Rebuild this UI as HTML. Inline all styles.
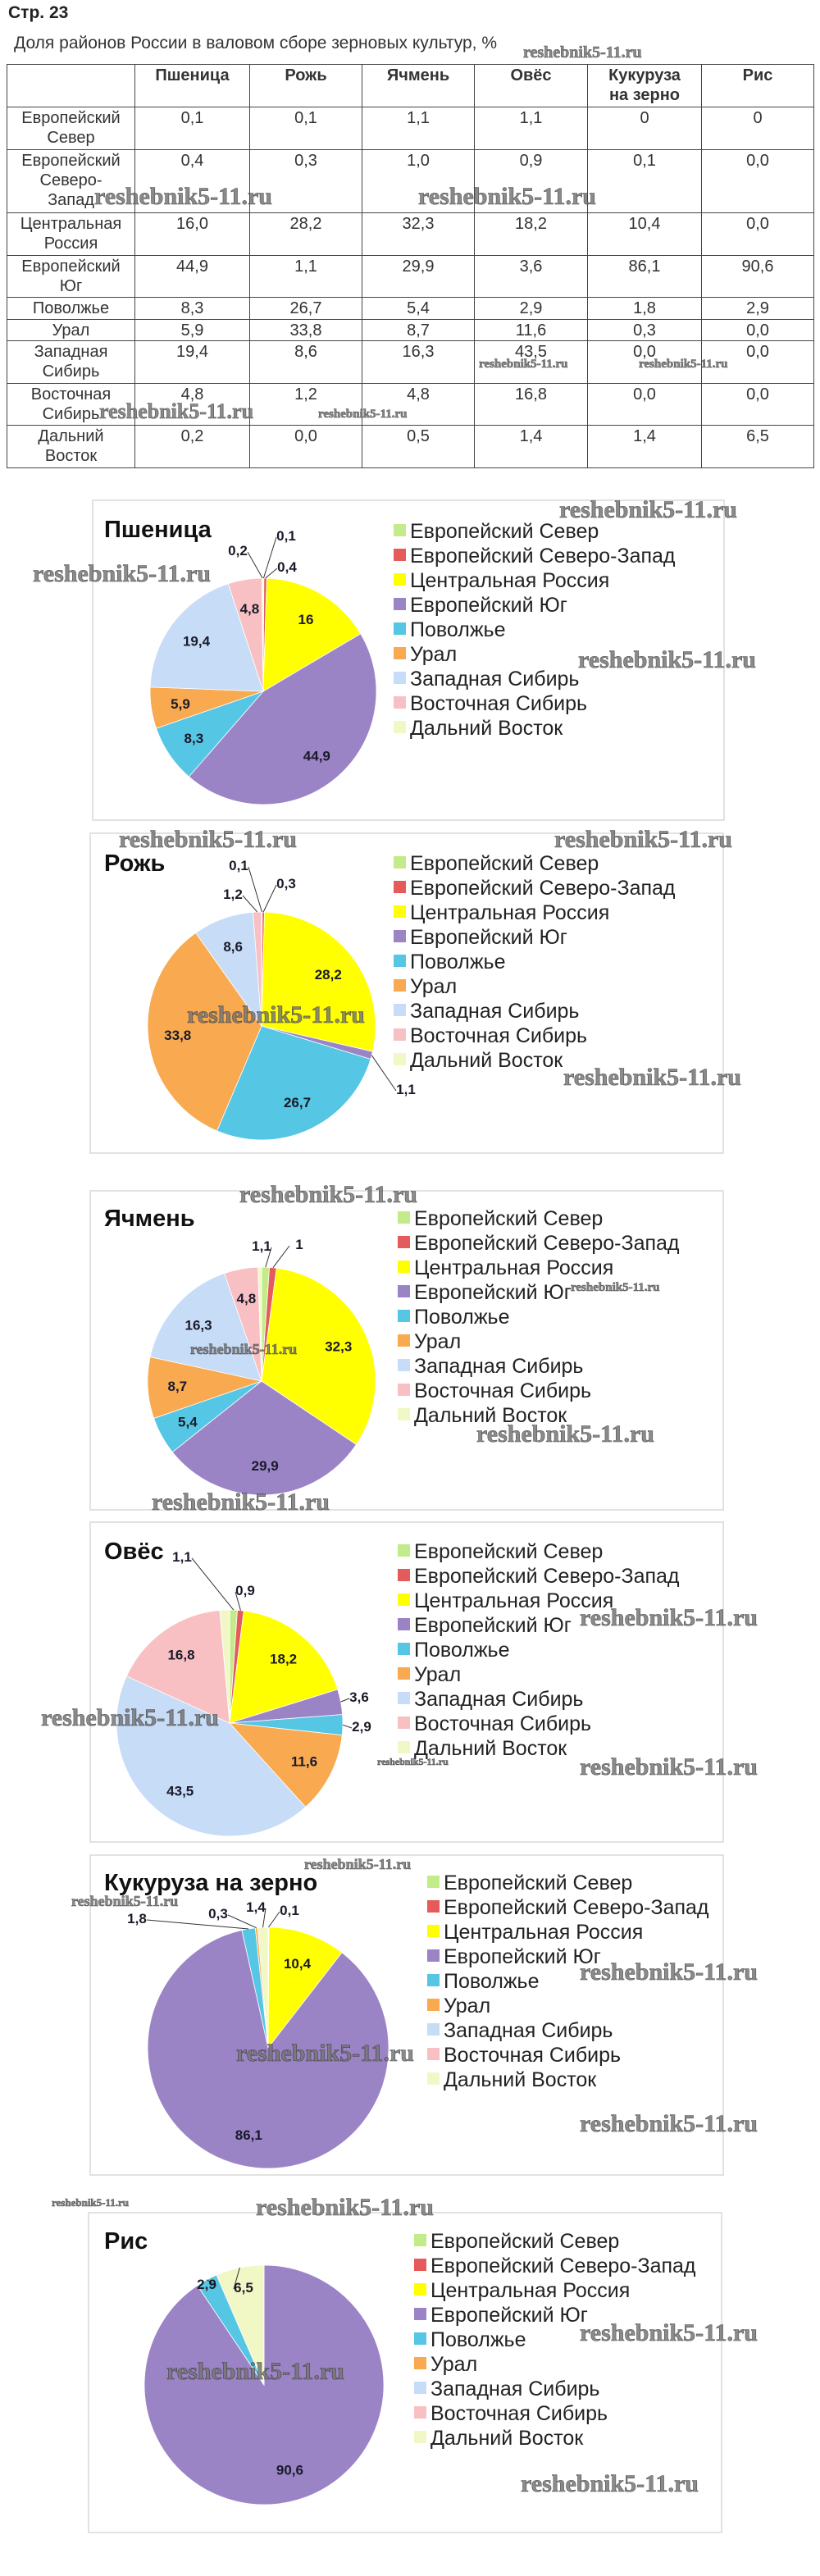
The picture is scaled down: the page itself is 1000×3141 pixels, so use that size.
<!DOCTYPE html>
<html><head><meta charset="utf-8"><style>
body{margin:0;background:#fff;width:1000px;height:3141px;position:relative;overflow:hidden;font-family:"Liberation Sans",sans-serif;}
.h1{position:absolute;left:10px;top:4px;font-size:21px;font-weight:bold;color:#222}
.h2{position:absolute;left:17px;top:41px;font-size:21px;color:#333}
table{position:absolute;left:8px;top:78px;border-collapse:collapse;font-size:20px;color:#333;table-layout:fixed;width:984px}
td{border:1.5px solid #444;text-align:center;vertical-align:top;padding:1px 0 0 0;line-height:24px;overflow:hidden}
.wm{position:absolute;font-family:"Liberation Serif",serif;font-weight:bold;color:#777;-webkit-text-stroke:0.6px #333;white-space:nowrap;opacity:.85}
svg{position:absolute;left:0;top:0}
</style></head><body>
<div class="h1">Стр. 23</div>
<div class="h2">Доля районов России в валовом сборе зерновых культур, %</div>
<table>
<colgroup><col style="width:156px"><col style="width:140px"><col style="width:137px"><col style="width:137px"><col style="width:138px"><col style="width:139px"><col style="width:137px"></colgroup>
<tr style="height:52px;font-weight:bold"><td></td><td>Пшеница</td><td>Рожь</td><td>Ячмень</td><td>Овёс</td><td>Кукуруза<br>на зерно</td><td>Рис</td></tr>
<tr style="height:52px"><td>Европейский<br>Север</td><td>0,1</td><td>0,1</td><td>1,1</td><td>1,1</td><td>0</td><td>0</td></tr>
<tr style="height:77px"><td>Европейский<br>Северо-<br>Запад</td><td>0,4</td><td>0,3</td><td>1,0</td><td>0,9</td><td>0,1</td><td>0,0</td></tr>
<tr style="height:52px"><td>Центральная<br>Россия</td><td>16,0</td><td>28,2</td><td>32,3</td><td>18,2</td><td>10,4</td><td>0,0</td></tr>
<tr style="height:51px"><td>Европейский<br>Юг</td><td>44,9</td><td>1,1</td><td>29,9</td><td>3,6</td><td>86,1</td><td>90,6</td></tr>
<tr style="height:27px"><td>Поволжье</td><td>8,3</td><td>26,7</td><td>5,4</td><td>2,9</td><td>1,8</td><td>2,9</td></tr>
<tr style="height:26px"><td>Урал</td><td>5,9</td><td>33,8</td><td>8,7</td><td>11,6</td><td>0,3</td><td>0,0</td></tr>
<tr style="height:52px"><td>Западная<br>Сибирь</td><td>19,4</td><td>8,6</td><td>16,3</td><td>43,5</td><td>0,0</td><td>0,0</td></tr>
<tr style="height:51px"><td>Восточная<br>Сибирь</td><td>4,8</td><td>1,2</td><td>4,8</td><td>16,8</td><td>0,0</td><td>0,0</td></tr>
<tr style="height:52px"><td>Дальний<br>Восток</td><td>0,2</td><td>0,0</td><td>0,5</td><td>1,4</td><td>1,4</td><td>6,5</td></tr>
</table>
<svg id="s" width="1000" height="3141" xmlns="http://www.w3.org/2000/svg"></svg>
<div id="wms"></div>
<script>
const NS="http://www.w3.org/2000/svg",S=document.getElementById('s');
function el(n,a,t){const e=document.createElementNS(NS,n);for(const k in a)e.setAttribute(k,a[k]);if(t!=null)e.textContent=t;S.appendChild(e);return e;}
const COL=['#c3eb8a','#e55a5a','#ffff00','#9b84c6','#55c6e4','#f9a94f','#c7dcf6','#f8c0c2','#f1f8c6'];
const NAMES=['Европейский Север','Европейский Северо-Запад','Центральная Россия','Европейский Юг','Поволжье','Урал','Западная Сибирь','Восточная Сибирь','Дальний Восток'];
const charts=[
{t:'Пшеница',b:[113,610,883,1000],c:[321,843],r:138,ty:645,lx:480,ly:647,v:[0.1,0.4,16,44.9,8.3,5.9,19.4,4.8,0.2],o:{0:[349,653],1:[350,691],8:[290,671]},skip:[]},
{t:'Рожь',b:[110,1016,882,1406],c:[319,1251],r:139,ty:1052,lx:480,ly:1052,v:[0.1,0.3,28.2,1.1,26.7,33.8,8.6,1.2,0],o:{0:[291,1055],1:[349,1077],3:[495,1328],7:[284,1090]},skip:[8]},
{t:'Ячмень',b:[110,1452,882,1841],c:[319,1684],r:139,ty:1485,lx:485,ly:1485,v:[1.1,1.0,32.3,29.9,5.4,8.7,16.3,4.8,0.5],o:{0:[319,1519],1:[365,1517]},skip:[8]},
{t:'Овёс',b:[110,1856,882,2246],c:[280,2101],r:138,ty:1891,lx:485,ly:1891,v:[1.1,0.9,18.2,3.6,2.9,11.6,43.5,16.8,1.4],o:{0:[222,1898],1:[299,1939],3:[438,2069],4:[441,2105]},skip:[8]},
{t:'Кукуруза на зерно',b:[110,2262,882,2652],c:[327,2497],r:147,ty:2295,lx:521,ly:2295,v:[0,0.1,10.4,86.1,1.8,0.3,0,0,1.4],o:{1:[353,2329],4:[167,2339],5:[266,2333],8:[312,2325]},skip:[]},
{t:'Рис',b:[108,2698,880,3088],c:[322,2908],r:146,ty:2732,lx:505,ly:2732,v:[0,0,0,90.6,2.9,0,0,0,6.5],o:{4:[252,2785],8:[297,2789]},skip:[]}
];
charts.forEach(ch=>{
 const[x1,y1,x2,y2]=ch.b;
 el('rect',{x:x1,y:y1,width:x2-x1,height:y2-y1,fill:'#fff',stroke:'#d9d9d9','stroke-width':1.5});
 el('text',{x:127,y:ch.ty+10,'font-size':29,'font-weight':'bold','font-family':'Liberation Sans, sans-serif',fill:'#111'},ch.t);
 NAMES.forEach((n,i)=>{const y=ch.ly+i*30;
  el('rect',{x:ch.lx,y:y-8,width:15,height:15,fill:COL[i]});
  el('text',{x:ch.lx+20,y:y+9,'font-size':25,'font-family':'Liberation Sans, sans-serif',fill:'#222'},n);});
 const [cx,cy]=ch.c,r=ch.r,tot=ch.v.reduce((a,b)=>a+b,0);let a0=-Math.PI/2;
 const mids=[];
 ch.v.forEach((v,i)=>{if(v<=0){mids.push(null);return;}
  const a1=a0+v/tot*2*Math.PI;
  const p0=[cx+r*Math.cos(a0),cy+r*Math.sin(a0)],p1=[cx+r*Math.cos(a1),cy+r*Math.sin(a1)];
  el('path',{d:`M${cx},${cy}L${p0[0]},${p0[1]}A${r},${r} 0 ${a1-a0>Math.PI?1:0} 1 ${p1[0]},${p1[1]}Z`,fill:COL[i],stroke:'#fff','stroke-width':0.8});
  mids.push((a0+a1)/2);a0=a1;});
 ch.v.forEach((v,i)=>{if(v<=0||ch.skip.includes(i))return;
  const m=mids[i],txt=String(v).replace('.',',');let x,y;
  if(ch.o[i]){[x,y]=ch.o[i];
   const ex=cx+r*Math.cos(m),ey=cy+r*Math.sin(m);
   el('line',{x1:x+(ex>x?12:-12),y1:y+2,x2:ex,y2:ey,stroke:'#333','stroke-width':1});}
  else{x=cx+0.74*r*Math.cos(m);y=cy+0.74*r*Math.sin(m);}
  el('text',{x:x,y:y+6,'text-anchor':'middle','font-size':17,'font-weight':'bold','font-family':'Liberation Sans, sans-serif',fill:'#1a1a2a'},txt);});
});
const W=[[638,66,20],[115,243,30],[510,243,30],[584,446,15],[779,446,15],[121,505,26],[388,507,15],
[682,625,30],[40,703,30],[705,808,30],[145,1027,30],[676,1027,30],[228,1241,30],[687,1317,30],
[292,1460,30],[232,1647,18],[696,1572,15],[581,1752,30],[185,1835,30],
[707,1976,30],[50,2098,30],[460,2149,12],[707,2158,30],[371,2275,18],[87,2320,18],[707,2408,30],[288,2507,30],[707,2593,30],
[63,2687,13],[312,2695,30],[203,2895,30],[707,2848,30],[635,3032,30]];
const wd=document.getElementById('wms');
W.forEach(([x,y,s])=>{const d=document.createElement('div');d.className='wm';d.style.left=x+'px';d.style.top=(y-s*0.6)+'px';d.style.fontSize=s+'px';d.style.lineHeight=s+'px';d.textContent='reshebnik5-11.ru';wd.appendChild(d);});
</script>
</body></html>
